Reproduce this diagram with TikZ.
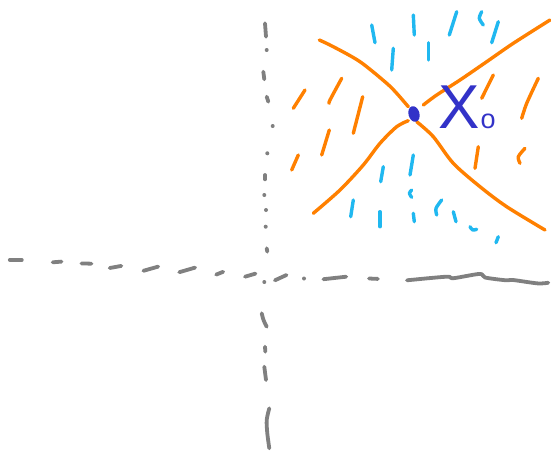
\documentclass[tikz,border=0pt]{standalone}
\usepackage{fontspec}
\setsansfont{Liberation Sans}
\usepackage{tikz}
\usetikzlibrary{shapes.geometric}
\definecolor{axisgray}{HTML}{808080}
\definecolor{sketchorange}{HTML}{FF8000}
\definecolor{sketchcyan}{HTML}{20B8F0}
\definecolor{sketchblue}{HTML}{3232C8}
\tikzset{
	axis/.style={draw=axisgray, line width=3.8pt, line cap=round, line join=round},
	branch/.style={draw=sketchorange, line width=3.4pt, line cap=round, line join=round},
	hatch/.style={draw=sketchcyan, line width=3.4pt, line cap=round, line join=round},
	ohatch/.style={draw=sketchorange, line width=3.4pt, line cap=round, line join=round}
}
\begin{document}
\begin{tikzpicture}[x=1pt, y=-1pt,
		point/.style={fill=sketchblue, ellipse, inner sep=0pt, minimum width=11pt, minimum height=16pt, rotate=15},
		xlabel/.style={text=sketchblue, font=\sffamily\fontsize{62}{62}\selectfont, inner sep=0pt, anchor=base west}
		]
		\useasboundingbox (0,0) rectangle (551,456);
		\fill[white] (0,0) rectangle (551,456);
		
		% horizontal axis
		\foreach \a/\b in {{9.8,259.9}/{21.8,259.9}, {52.7,262.3}/{61.5,261.6}, {81.5,263.4}/{91.4,263.7},
			{109.7,268}/{121.3,265.9}, {143.4,270.8}/{158.2,266.6}, {179.3,272.2}/{195.1,267.6},
			{216.2,274.6}/{223.2,271.8}, {245,276.7}/{255.5,273.6}, {274.9,280.3}/{286.5,275},
			{323.4,279.2}/{346.2,276.7}, {369,278.5}/{377.9,278.9}}
		\draw[axis] (\a) -- (\b);
		\draw[axis] plot[smooth, tension=0.5] coordinates {(407,280.3) (446.4,276.7) (453.4,278.2) (479.8,273.9) (485,277.5) (506,280.3) (513,280) (537.8,283.4) (548.3,282.7)};
		
		% vertical axis
		\foreach \a/\b in {{265,23.3}/{266,36.7}, {263.3,71.7}/{264.3,79.3}, {266.7,96.7}/{268.3,101.7},
			{265,175}/{265,179.3}, {266.7,248.3}/{267.3,251.7}, {265,346.7}/{265.3,351.7}, {264.3,366.7}/{266,380}}
		\draw[axis] (\a) -- (\b);
		\foreach \p in {{266.7,50}, {272.7,126}, {267.3,153.3}, {264.3,195}, {266,210}, {265.7,226.7}, {264.3,282}, {304,278.5}}
		\fill[axisgray] (\p) circle (2pt);
		\draw[axis] plot[smooth] coordinates {(261.7,313.3) (263.5,320) (266.7,326.7)};
		\draw[axis] plot[smooth] coordinates {(269.3,408.3) (266.7,420) (267.3,433.3) (269.3,448.3)};
		
		% branches through the point
		\draw[branch] plot[smooth] coordinates {(319.3,40) (333.3,46.7) (360,61.7) (386.7,83.3) (396.7,93.3) (408.3,106.7)};
		\draw[branch] plot[smooth] coordinates {(423.3,105) (436.7,95) (460,80) (486.7,61.7) (513.3,43.3) (550,20)};
		\draw[branch] plot[smooth] coordinates {(313.3,213.3) (340,190) (363.3,165) (380,143.3) (396.7,126.7) (408.3,120.7)};
		\draw[branch] plot[smooth] coordinates {(416.7,121.7) (433.3,136.7) (453.3,163.3) (480,186.7) (506.7,206.7) (545,230)};
		
		% cyan hatching
		\foreach \a/\b in {{371.7,25}/{375,42.7}, {413.3,15}/{414.3,35}, {456.7,11.7}/{449.3,35},
			{498.3,21.7}/{491.7,42.7}, {393.3,48.3}/{391.7,70}, {428.3,42.7}/{428.3,60},
			{413.3,155}/{410,175}, {383.3,166.7}/{380.7,181.7}, {353.3,200}/{350.7,216.7},
			{380,211.7}/{380,226.7}, {413.3,213.3}/{414.3,221.7}, {453.3,211.7}/{456,221.7},
			{498.3,236.7}/{496,242.7}}
		\draw[hatch] (\a) -- (\b);
		\draw[hatch] plot[smooth] coordinates {(481.7,11.7) (479.3,18.3) (483.3,25)};
		\draw[hatch] plot[smooth] coordinates {(411.7,190) (409.3,193.3) (411.7,197.3)};
		\draw[hatch] plot[smooth] coordinates {(441.7,200) (436,208.3) (436.7,215)};
		\draw[hatch] plot[smooth] coordinates {(470,226.7) (472.7,230) (476.7,229.3)};
		
		% orange hatching
		\foreach \a/\b in {{305,90}/{293.3,108.3}, {362.7,96.7}/{353.3,133.3}, {329.3,130}/{321.7,155},
			{298.3,155}/{291.7,170}, {493.3,75}/{481.7,98.3}, {478.3,146.7}/{475,168.3}}
		\draw[ohatch] (\a) -- (\b);
		\draw[ohatch] plot[smooth] coordinates {(341.7,78.3) (330,100) (329.3,103.3)};
		\draw[ohatch] plot[smooth] coordinates {(538.3,78.3) (526.7,103.3) (521.7,118.3)};
		\draw[ohatch] plot[smooth] coordinates {(525,148.3) (518.3,156.7) (520,163.3)};
		
		% the point and its label
		\node[point] (x0pt) at (414,114) {};
		\node[xlabel] (x0) at (438,128) {X\kern1pt{\fontsize{27}{27}\selectfont o}};
	\end{tikzpicture}
\end{document}
